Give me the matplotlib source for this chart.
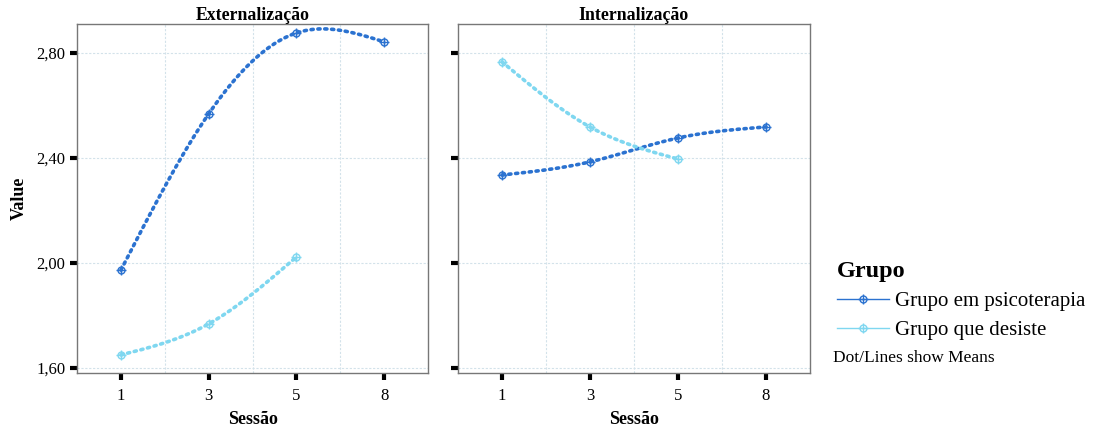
import numpy as np
import matplotlib.pyplot as plt
from matplotlib.lines import Line2D

plt.rcParams['font.family'] = ['Liberation Serif', 'DejaVu Serif']

sessions = ['1', '3', '5', '8']
panels = ['Externalização', 'Internalização']
groups = ['Grupo em psicoterapia', 'Grupo que desiste']
colors = ['#2b72d0', '#7fd7f0']

# means per panel and group (None = no data at that session)
ext_psico = [1.973, 2.568, 2.876, 2.842]
ext_desiste = [1.650, 1.768, 2.023, None]
int_psico = [2.335, 2.385, 2.476, 2.518]
int_desiste = [2.766, 2.518, 2.396, None]

data = {
    'Externalização': [ext_psico, ext_desiste],
    'Internalização': [int_psico, int_desiste],
}


def natural_spline(x, y, n=100):
    x = np.asarray(x, float)
    y = np.asarray(y, float)
    k = len(x)
    h = np.diff(x)
    A = np.zeros((k, k))
    b = np.zeros(k)
    A[0, 0] = A[-1, -1] = 1
    for i in range(1, k - 1):
        A[i, i - 1] = h[i - 1]
        A[i, i] = 2 * (h[i - 1] + h[i])
        A[i, i + 1] = h[i]
        b[i] = 3 * ((y[i + 1] - y[i]) / h[i] - (y[i] - y[i - 1]) / h[i - 1])
    c = np.linalg.solve(A, b)
    xs = np.linspace(x[0], x[-1], n)
    ys = np.empty_like(xs)
    for j, xv in enumerate(xs):
        i = min(np.searchsorted(x, xv, side='right') - 1, k - 2)
        bi = (y[i + 1] - y[i]) / h[i] - h[i] * (2 * c[i] + c[i + 1]) / 3
        di = (c[i + 1] - c[i]) / (3 * h[i])
        t = xv - x[i]
        ys[j] = y[i] + bi * t + c[i] * t ** 2 + di * t ** 3
    return xs, ys


fig = plt.figure(figsize=(10.99, 4.32), dpi=100)
ax1 = fig.add_axes([0.0701, 0.1366, 0.3194, 0.8078])
ax2 = fig.add_axes([0.4167, 0.1366, 0.3203, 0.8078])

for ax, name in zip([ax1, ax2], panels):
    for vals, col in zip(data[name], colors):
        xs = [i for i, v in enumerate(vals) if v is not None]
        ys = [v for v in vals if v is not None]
        sx, sy = natural_spline(xs, ys, n=300)
        ax.plot(sx, sy, color=col, lw=2.6, ls=(0, (0.6, 1.3)), dash_capstyle='round', zorder=3)
        ax.errorbar(xs, ys, yerr=0.012, fmt='o', ms=5, mfc='none', mec=col, ecolor=col,
                    elinewidth=1, capsize=0, zorder=4)
        ax.plot(xs, ys, '+', ms=7, color=col, mew=1, zorder=4)
    ax.set_xlim(-0.5, 3.5)
    ax.set_ylim(1.581, 2.91)
    ax.set_xticks(range(4))
    ax.set_xticklabels(sessions, fontsize=12)
    ax.set_yticks([1.6, 2.0, 2.4, 2.8])
    ax.set_xticks([0.5, 1.5, 2.5], minor=True)
    ax.grid(True, which='minor', axis='x', color='#d3e2ea', ls=(0, (2, 1.5)), lw=0.8)
    ax.grid(True, which='major', axis='y', color='#d3e2ea', ls=(0, (2, 1.5)), lw=0.8)
    ax.tick_params(axis='both', which='major', length=5, width=3, color='black', direction='out')
    ax.tick_params(axis='x', which='minor', length=0)
    ax.tick_params(axis='x', pad=6)
    for sp in ax.spines.values():
        sp.set_color('#777777')
        sp.set_linewidth(1)
    ax.set_title(name, fontsize=12.8, fontweight='bold', pad=1)
    ax.set_xlabel('Sessão', fontsize=13, fontweight='bold', labelpad=5)

ax1.set_yticklabels(['1,60', '2,00', '2,40', '2,80'], fontsize=12)
ax2.set_yticklabels([])
ax1.set_ylabel('Value', fontsize=13, fontweight='bold', labelpad=6)

handles = []
for c in colors:
    ln = Line2D([], [], color=c, lw=1)
    circ = Line2D([], [], color=c, marker='o', ms=5, mfc='none', ls='none', mew=1)
    plus = Line2D([], [], color=c, marker='+', ms=7, ls='none', mew=1)
    handles.append((ln, circ, plus))
leg = fig.legend(handles, groups, loc='upper left', bbox_to_anchor=(0.752, 0.42), frameon=False,
                 title='Grupo', fontsize=15, handlelength=2.5, handletextpad=0.3,
                 labelspacing=0.45, borderpad=0, alignment='left')
leg.get_title().set_fontsize(17.5)
leg.get_title().set_fontweight('bold')
fig.text(0.758, 0.163, 'Dot/Lines show Means', fontsize=12.5)

fig.savefig('out.png', dpi=100)
